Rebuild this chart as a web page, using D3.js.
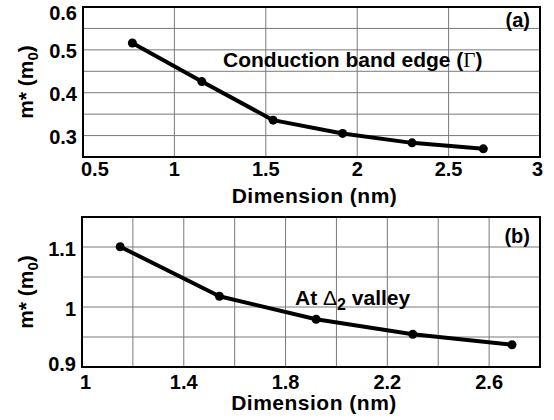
<!DOCTYPE html>
<html>
<head>
<meta charset="utf-8">
<script src="https://cdn.jsdelivr.net/npm/d3@7"></script>
<style>
  body { margin: 0; background: #fff; }
  text { font-family: Arial, "Liberation Sans", sans-serif; font-weight: bold; fill: #000; }
</style>
</head>
<body>
<svg id="chart" width="554" height="420"></svg>
<script>
// Panel (a): conduction band edge (Gamma)
const dimA = [0.77, 1.15, 1.54, 1.92, 2.30, 2.69];
const massA = [0.516, 0.426, 0.336, 0.305, 0.283, 0.269];
const xTicksA = [0.5, 1, 1.5, 2, 2.5, 3];
const yTicksA = [0.3, 0.4, 0.5, 0.6];

// Panel (b): at Delta2 valley
const dimB = [1.15, 1.54, 1.92, 2.30, 2.69];
const massB = [1.1005, 1.018, 0.9795, 0.9545, 0.937];
const xTicksB = [1, 1.4, 1.8, 2.2, 2.6];
const yTicksB = [0.9, 1, 1.1];

const svg = d3.select("#chart");
const clamp = (v, lo, hi) => Math.max(lo, Math.min(hi, v));

function drawPanel(opts) {
  const { left, right, top, bottom, xDomain, yDomain, xStep, yStep, xTicks, yTicks, xs, ys } = opts;
  const x = d3.scaleLinear().domain(xDomain).range([left, right]);
  const y = d3.scaleLinear().domain(yDomain).range([bottom, top]);
  const g = svg.append("g");

  // grid
  const xGrid = d3.range(xDomain[0] + xStep, xDomain[1] - xStep / 2, xStep);
  const yGrid = d3.range(yDomain[0] + yStep, yDomain[1] - yStep / 2, yStep);
  g.selectAll(".gx").data(xGrid).join("line")
    .attr("x1", d => x(d)).attr("x2", d => x(d))
    .attr("y1", top).attr("y2", bottom)
    .attr("stroke", "#7a7a7a").attr("stroke-width", 1);
  g.selectAll(".gy").data(yGrid).join("line")
    .attr("x1", left).attr("x2", right)
    .attr("y1", d => y(d)).attr("y2", d => y(d))
    .attr("stroke", "#7a7a7a").attr("stroke-width", 1);

  // frame
  g.append("rect")
    .attr("x", left).attr("y", top)
    .attr("width", right - left).attr("height", bottom - top)
    .attr("fill", "none").attr("stroke", "#000").attr("stroke-width", 2);

  // tick labels, kept inside the frame's extent like the original
  g.selectAll(".xl").data(xTicks).join("text")
    .attr("y", bottom + opts.xLabelDy)
    .attr("text-anchor", "middle").style("font-size", "20px")
    .text(d => d)
    .attr("x", function(d) {
      const w = this.getComputedTextLength();
      return clamp(x(d), left - 2 + w / 2, right + 3 - w / 2);
    });
  g.selectAll(".yl").data(yTicks).join("text")
    .attr("x", left - 6)
    .attr("y", d => clamp(y(d) + 1.5, top + 6, bottom - 3.5) + 7)
    .attr("text-anchor", "end").style("font-size", "20px")
    .text(d => d);

  // axis titles
  g.append("text")
    .attr("x", (left + right) / 2 + 3).attr("y", opts.titleY)
    .attr("text-anchor", "middle").style("font-size", "21px")
    .style("letter-spacing", "0.5px")
    .text("Dimension (nm)");

  const yt = g.append("text")
    .attr("transform", `translate(33,${(top + bottom) / 2}) rotate(-90)`)
    .attr("text-anchor", "middle").style("font-size", "21px");
  yt.append("tspan").text("m* (m");
  yt.append("tspan").attr("dy", 5).style("font-size", "15px").text("0");
  yt.append("tspan").attr("dy", -5).text(")");

  // curve
  const pts = xs.map((d, i) => [d, ys[i]]);
  g.append("path")
    .attr("d", d3.line().x(d => x(d[0])).y(d => y(d[1]))(pts))
    .attr("fill", "none").attr("stroke", "#000").attr("stroke-width", 4)
    .attr("stroke-linejoin", "round");
  g.selectAll(".pt").data(pts).join("circle")
    .attr("cx", d => x(d[0])).attr("cy", d => y(d[1]))
    .attr("r", 4.5).attr("fill", "#000");

  // panel tag
  g.append("text")
    .attr("x", right - 10).attr("y", opts.tagY)
    .attr("text-anchor", "end").style("font-size", "20px")
    .text(opts.tag);

  return { x, y, g };
}

const a = drawPanel({
  left: 83, right: 540, top: 7, bottom: 157,
  xDomain: [0.5, 3], yDomain: [0.25, 0.6], xStep: 0.5, yStep: 0.05,
  xTicks: xTicksA, yTicks: yTicksA, xs: dimA, ys: massA,
  xLabelDy: 19, titleY: 203, tag: "(a)", tagY: 27
});
const la = a.g.append("text")
  .attr("x", 223).attr("y", 67).style("font-size", "21px");
la.append("tspan").text("Conduction band edge (");
la.append("tspan").style("font-family", "'Liberation Serif', 'DejaVu Serif', serif")
  .style("font-weight", "normal").text("Γ");
la.append("tspan").text(")");

const b = drawPanel({
  left: 82, right: 540, top: 217, bottom: 367,
  xDomain: [1, 2.8], yDomain: [0.9, 1.15], xStep: 0.2, yStep: 0.05,
  xTicks: xTicksB, yTicks: yTicksB, xs: dimB, ys: massB,
  xLabelDy: 22, titleY: 410, tag: "(b)", tagY: 243
});
const lb = b.g.append("text")
  .attr("x", 295).attr("y", 305).style("font-size", "21px");
lb.append("tspan").text("At ");
lb.append("tspan").style("font-weight", "normal").text("Δ");
lb.append("tspan").attr("dy", 5).style("font-size", "16px").text("2");
lb.append("tspan").attr("dy", -5).text(" valley");
</script>
</body>
</html>
